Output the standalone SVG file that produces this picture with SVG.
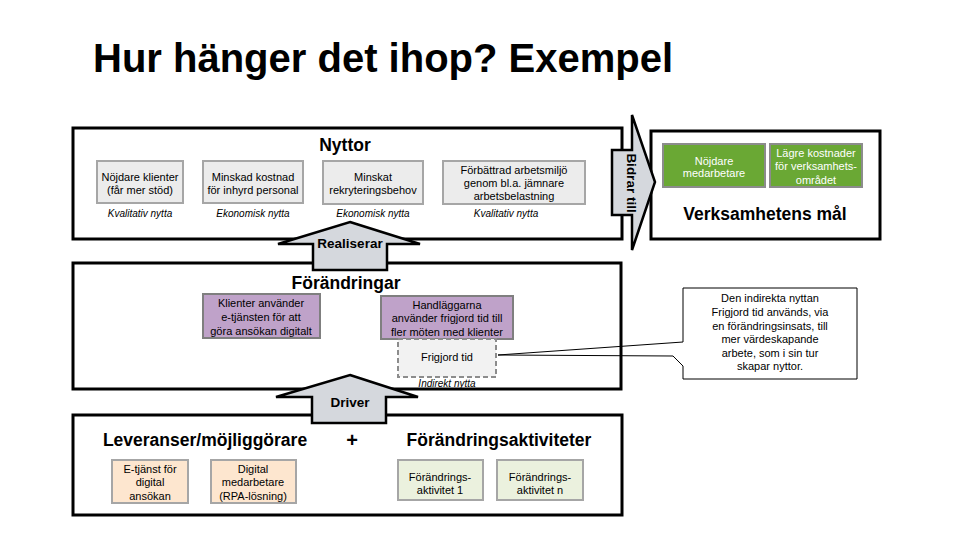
<svg xmlns="http://www.w3.org/2000/svg" width="960" height="540" viewBox="0 0 960 540">
<style>
text{font-family:"Liberation Sans",Arial,sans-serif;fill:#000}
.t{font-size:11px;text-anchor:middle}
.w{font-size:11px;text-anchor:middle;fill:#fff}
.cap{font-size:10px;font-style:italic;text-anchor:middle}
.h{font-size:17.5px;font-weight:bold;text-anchor:middle}
.al{font-size:13.5px;font-weight:bold;text-anchor:middle}
.frame{fill:none;stroke:#000;stroke-width:3}
.gray{fill:#ececec;stroke:#a6a6a6;stroke-width:2}
.purple{fill:#bfa2c9;stroke:#7f7f7f;stroke-width:2}
.green{fill:#6aa834;stroke:#8c8c8c;stroke-width:2}
.peach{fill:#fde6cf;stroke:#a6a6a6;stroke-width:2}
.lgreen{fill:#ebf1de;stroke:#a6a6a6;stroke-width:2}
.arrow{fill:#d5d8dd;stroke:#000;stroke-width:2.5;stroke-linejoin:miter}
</style>
<rect width="960" height="540" fill="#fff"/>
<text x="93" y="72" style="font-size:40px;font-weight:bold">Hur hänger det ihop? Exempel</text>

<g id="callout">
<path d="M683,288 H857 V379 H683 V366 L673,356 L498,355 L683,342 Z" fill="#fff" stroke="#000" stroke-width="1"/>
<text class="t" x="770" y="302">Den indirekta nyttan</text>
<text class="t" x="770" y="316">Frigjord tid används, via</text>
<text class="t" x="770" y="330">en förändringsinsats, till</text>
<text class="t" x="770" y="343">mer värdeskapande</text>
<text class="t" x="770" y="357">arbete, som i sin tur</text>
<text class="t" x="770" y="370">skapar nyttor.</text>
</g>

<g id="nyttor">
<rect class="frame" x="73" y="128" width="549" height="111"/>
<text class="h" x="345" y="151">Nyttor</text>
</g>
<g id="n1">
<rect class="gray" x="97" y="161" width="86" height="42"/>
<text class="t" x="140" y="181">Nöjdare klienter</text>
<text class="t" x="140" y="194">(får mer stöd)</text>
<text class="cap" x="140" y="217">Kvalitativ nytta</text>
</g>
<g id="n2">
<rect class="gray" x="203" y="161" width="100" height="42"/>
<text class="t" x="253" y="181">Minskad kostnad</text>
<text class="t" x="253" y="194">för inhyrd personal</text>
<text class="cap" x="253" y="217">Ekonomisk nytta</text>
</g>
<g id="n3">
<rect class="gray" x="323" y="161" width="100" height="43"/>
<text class="t" x="373" y="181">Minskat</text>
<text class="t" x="373" y="194">rekryteringsbehov</text>
<text class="cap" x="373" y="217">Ekonomisk nytta</text>
</g>
<g id="n4">
<rect class="gray" x="443" y="161" width="142" height="43"/>
<text class="t" x="514" y="174">Förbättrad arbetsmiljö</text>
<text class="t" x="514" y="187">genom bl.a. jämnare</text>
<text class="t" x="514" y="200">arbetsbelastning</text>
<text class="cap" x="506" y="217">Kvalitativ nytta</text>
</g>

<g id="mal">
<rect class="frame" x="651" y="131" width="229" height="108"/>
<text class="h" x="765" y="220">Verksamhetens mål</text>
</g>
<g id="m1">
<rect class="green" x="663" y="144" width="102" height="43"/>
<text class="w" x="714" y="165">Nöjdare</text>
<text class="w" x="714" y="177">medarbetare</text>
</g>
<g id="m2">
<rect class="green" x="770" y="144" width="92" height="43"/>
<text class="w" x="816" y="157">Lägre kostnader</text>
<text class="w" x="816" y="170">för verksamhets-</text>
<text class="w" x="816" y="184">området</text>
</g>

<g id="forandringar">
<rect class="frame" x="73" y="263" width="548" height="126"/>
<text class="h" x="346" y="289">Förändringar</text>
</g>
<g id="f1">
<rect class="purple" x="203" y="294" width="117" height="44"/>
<text class="t" x="261" y="307">Klienter använder</text>
<text class="t" x="261" y="321">e-tjänsten för att</text>
<text class="t" x="261" y="335">göra ansökan digitalt</text>
</g>
<g id="f2">
<rect class="purple" x="381" y="296" width="132" height="43"/>
<text class="t" x="447" y="309">Handläggarna</text>
<text class="t" x="447" y="322">använder frigjord tid till</text>
<text class="t" x="447" y="336">fler möten med klienter</text>
</g>
<g id="frigjord">
<rect x="398" y="339" width="98" height="38" fill="#f2f2f2" stroke="#8c8c8c" stroke-width="2" stroke-dasharray="5,3"/>
<text class="t" x="447" y="361">Frigjord tid</text>
<text class="cap" x="447" y="387">Indirekt nytta</text>
</g>

<g id="leveranser">
<rect class="frame" x="73" y="415" width="549" height="100"/>
<text class="h" x="205" y="446">Leveranser/möjliggörare</text>
<text x="352" y="447" style="font-size:20px;font-weight:bold;text-anchor:middle">+</text>
<text class="h" x="499" y="446">Förändringsaktiviteter</text>
</g>
<g id="l1">
<rect class="peach" x="112" y="460" width="76" height="43"/>
<text class="t" x="150" y="473">E-tjänst för</text>
<text class="t" x="150" y="486">digital</text>
<text class="t" x="150" y="500">ansökan</text>
</g>
<g id="l2">
<rect class="peach" x="211" y="460" width="85" height="43"/>
<text class="t" x="253" y="473">Digital</text>
<text class="t" x="253" y="486">medarbetare</text>
<text class="t" x="253" y="500">(RPA-lösning)</text>
</g>
<g id="a1">
<rect class="lgreen" x="398" y="460" width="85" height="40"/>
<text class="t" x="440" y="481">Förändrings-</text>
<text class="t" x="440" y="494">aktivitet 1</text>
</g>
<g id="an">
<rect class="lgreen" x="497" y="460" width="86" height="40"/>
<text class="t" x="540" y="481">Förändrings-</text>
<text class="t" x="540" y="494">aktivitet n</text>
</g>

<g id="connectors">
<g id="realiserar">
<polygon class="arrow" points="350,222 420,244 387,244 387,270 313,270 313,244 278,244"/>
<text class="al" x="350" y="248">Realiserar</text>
</g>
<g id="driver">
<polygon class="arrow" points="350,375 418,397 386,397 386,423 312,423 312,397 276,397"/>
<text class="al" x="350" y="407">Driver</text>
</g>
<g id="bidrar">
<polygon class="arrow" points="612,150 632,150 632,115 655,182 632,250 632,215 612,215"/>
<text class="al" transform="translate(627,183) rotate(90)">Bidrar till</text>
</g>
</g>
</svg>
